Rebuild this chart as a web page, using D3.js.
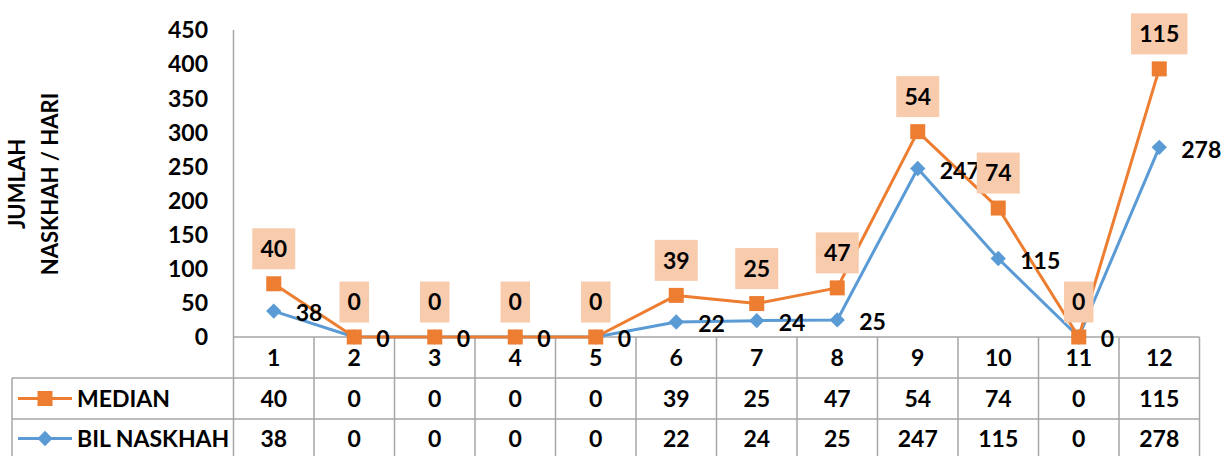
<!DOCTYPE html>
<html><head><meta charset="utf-8">
<script src="https://cdn.jsdelivr.net/npm/d3@7/dist/d3.min.js"></script>
<style>
html,body{margin:0;padding:0;background:#fff;}
svg{display:block;font-family:Lato,"Open Sans",sans-serif;font-weight:700;}
</style></head><body>
<script>
const categories = ["1","2","3","4","5","6","7","8","9","10","11","12"];
const median = [40,0,0,0,0,39,25,47,54,74,0,115];
const bilNaskhah = [38,0,0,0,0,22,24,25,247,115,0,278];
const yTicks = [0,50,100,150,200,250,300,350,400,450];
const seriesNames = ["MEDIAN","BIL NASKHAH"];
const yTitle = ["JUMLAH","NASKHAH / HARI"];

const W = 1223, H = 456;
const orange = "#ED7D31", blue = "#5B9BD5", peach = "#F8CBAD", grid = "#A6A6A6";
const fs = 23;

const svg = d3.select("body").append("svg").attr("width", W).attr("height", H);

const plotL = 233.5, plotR = 1199.5, plotT = 30, plotB = 337;
const x = d3.scaleBand().domain(categories).range([plotL, plotR]);
const y = d3.scaleLinear().domain([0,450]).range([plotB, plotT]);
const cx = c => x(c) + x.bandwidth()/2;

// stacked values for median
const medianStack = median.map((v,i) => v + bilNaskhah[i]);

// y axis ticks
svg.append("g").selectAll("text").data(yTicks).join("text")
  .attr("x", 208).attr("y", d => y(d)).attr("dy", "0.36em")
  .attr("text-anchor", "end").attr("font-size", fs).attr("fill", "#000")
  .text(d => d);

// y title
const yt = svg.append("g").attr("transform", "translate(0,184) rotate(-90)");
yt.selectAll("text").data(yTitle).join("text")
  .attr("x", 0).attr("y", (d,i) => 25 + i*33)
  .attr("text-anchor", "middle").attr("font-size", 22).attr("fill", "#000")
  .text(d => d);

// table grid
const rowY = [plotB, 378, 419, 460];
const tableL = 12;
const gg = svg.append("g").attr("stroke", grid).attr("stroke-width", 1.5).attr("fill", "none");
// y axis line
gg.append("line").attr("x1", plotL).attr("x2", plotL).attr("y1", plotT).attr("y2", H);
// horizontal lines
gg.append("line").attr("x1", plotL).attr("x2", plotR).attr("y1", rowY[0]).attr("y2", rowY[0]);
gg.append("line").attr("x1", tableL).attr("x2", plotR).attr("y1", rowY[1]).attr("y2", rowY[1]);
gg.append("line").attr("x1", tableL).attr("x2", plotR).attr("y1", rowY[2]).attr("y2", rowY[2]);
// vertical lines
const bounds = categories.map(c => x(c) + x.bandwidth()).concat([]);
gg.selectAll("line.v").data(bounds).join("line").attr("class","v")
  .attr("x1", d => d).attr("x2", d => d).attr("y1", rowY[0]).attr("y2", H);
gg.append("line").attr("x1", tableL).attr("x2", tableL).attr("y1", rowY[1]).attr("y2", H);

// table text
const tt = svg.append("g").attr("font-size", fs).attr("fill", "#000").attr("text-anchor", "middle");
tt.selectAll("text.c").data(categories).join("text").attr("class","c")
  .attr("x", d => cx(d)).attr("y", (rowY[0]+rowY[1])/2).attr("dy","0.36em").text(d => d);
tt.selectAll("text.m").data(median).join("text").attr("class","m")
  .attr("x", (d,i) => cx(categories[i])).attr("y", (rowY[1]+rowY[2])/2).attr("dy","0.36em").text(d => d);
tt.selectAll("text.b").data(bilNaskhah).join("text").attr("class","b")
  .attr("x", (d,i) => cx(categories[i])).attr("y", (rowY[2]+rowY[3])/2 - 1).attr("dy","0.36em").text(d => d);

// legend keys
const legY = [(rowY[1]+rowY[2])/2, (rowY[2]+rowY[3])/2 - 1];
const lg = svg.append("g");
lg.append("line").attr("x1",18).attr("x2",72).attr("y1",legY[0]).attr("y2",legY[0]).attr("stroke",orange).attr("stroke-width",3);
lg.append("rect").attr("x",45-7.5).attr("y",legY[0]-7.5).attr("width",15).attr("height",15).attr("fill",orange);
lg.append("line").attr("x1",18).attr("x2",72).attr("y1",legY[1]).attr("y2",legY[1]).attr("stroke",blue).attr("stroke-width",3);
lg.append("path").attr("d", d3.symbol(d3.symbolDiamond2, 150)()).attr("transform",`translate(45,${legY[1]})`).attr("fill",blue);
lg.selectAll("text").data(seriesNames).join("text")
  .attr("x", 77).attr("y", (d,i) => legY[i]).attr("dy","0.36em")
  .attr("font-size", fs).attr("fill","#000").text(d => d);

// lines
const line = d3.line().x((d,i) => cx(categories[i])).y(d => y(d));
svg.append("path").datum(bilNaskhah).attr("d", line).attr("fill","none").attr("stroke",blue).attr("stroke-width",3).attr("stroke-linejoin","round");
svg.append("path").datum(medianStack).attr("d", line).attr("fill","none").attr("stroke",orange).attr("stroke-width",3).attr("stroke-linejoin","round");

// blue markers
svg.append("g").selectAll("path").data(bilNaskhah).join("path")
  .attr("d", d3.symbol(d3.symbolDiamond2, 150)())
  .attr("transform", (d,i) => `translate(${cx(categories[i])},${y(d)})`)
  .attr("fill", blue);
// orange markers
svg.append("g").selectAll("rect").data(medianStack).join("rect")
  .attr("x", (d,i) => cx(categories[i]) - 7.5).attr("y", d => y(d) - 7.5)
  .attr("width", 15).attr("height", 15).attr("fill", orange);

// blue labels
svg.append("g").selectAll("text").data(bilNaskhah).join("text")
  .attr("x", (d,i) => cx(categories[i]) + 22).attr("y", d => y(d) + 2).attr("dy","0.36em")
  .attr("font-size", fs).attr("fill","#000").text(d => d);

// orange labels with boxes
const ol = svg.append("g").selectAll("g").data(medianStack).join("g")
  .attr("transform", (d,i) => `translate(${cx(categories[i])},${y(d) - 35})`);
ol.append("rect")
  .attr("x", (d,i) => -(String(median[i]).length*13.5 + 16)/2)
  .attr("width", (d,i) => String(median[i]).length*13.5 + 16)
  .attr("y", -20.5).attr("height", 41).attr("fill", peach);
ol.append("text").attr("text-anchor","middle").attr("dy","0.36em")
  .attr("font-size", fs).attr("fill","#000").text((d,i) => median[i]);
</script>
</body></html>
